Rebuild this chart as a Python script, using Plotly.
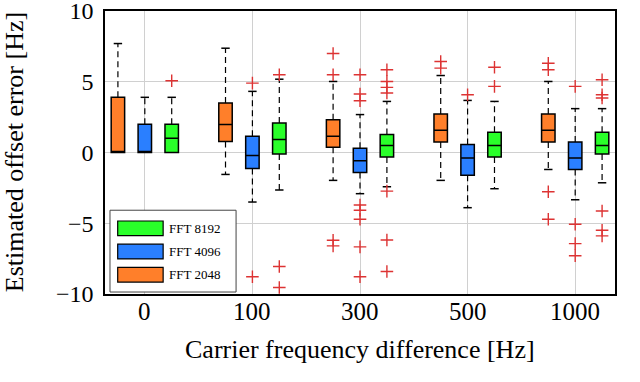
import plotly.graph_objects as go

categories = ["0", "100", "300", "500", "1000"]
series = ["FFT 2048", "FFT 4096", "FFT 8192"]
colors = ["#ff7f2a", "#2a7fff", "#2aff2a"]

# per series: one value per carrier frequency difference
q1 = {
    "FFT 2048": [0.0, 0.77, 0.37, 0.75, 0.75],
    "FFT 4096": [0.0, -1.13, -1.41, -1.6, -1.2],
    "FFT 8192": [0.0, -0.1, -0.31, -0.31, -0.1],
}
median = {
    "FFT 2048": [0.0, 1.97, 1.15, 1.57, 1.57],
    "FFT 4096": [0.0, -0.21, -0.59, -0.38, -0.38],
    "FFT 8192": [1.0, 0.92, 0.49, 0.49, 0.49],
}
q3 = {
    "FFT 2048": [3.9, 3.5, 2.32, 2.72, 2.72],
    "FFT 4096": [2.0, 1.15, 0.3, 0.56, 0.75],
    "FFT 8192": [2.0, 2.09, 1.27, 1.43, 1.43],
}
lower = {
    "FFT 2048": [0.0, -1.55, -1.97, -1.97, -1.2],
    "FFT 4096": [0.0, -3.5, -2.91, -3.9, -3.34],
    "FFT 8192": [0.0, -2.65, -2.42, -2.56, -2.14],
}
upper = {
    "FFT 2048": [7.7, 7.37, 5.02, 5.44, 5.02],
    "FFT 4096": [3.9, 4.32, 2.68, 3.68, 3.1],
    "FFT 8192": [3.9, 5.18, 3.61, 3.61, 3.1],
}
outliers = {
    "FFT 2048": [[], [], [7.0, 5.49, -6.2, -6.6], [6.43, 5.96], [6.31, 5.85, -2.77, -4.72]],
    "FFT 4096": [[], [4.9, -8.78], [5.49, 4.13, 3.66, -3.71, -4.08, -4.72, -6.67, -8.78], [4.08],
                 [4.67, -5.07, -6.44, -7.3]],
    "FFT 8192": [[5.07], [5.49, -8.06, -9.54], [5.85, 5.02, 4.6, 4.2, -2.73, -6.18, -8.41],
                 [6.03, 4.67], [5.14, 4.08, 3.85, -4.13, -5.49, -5.89]],
}

offsets = [-0.25, 0.0, 0.25]
font = "Liberation Serif, Times New Roman, serif"

fig = go.Figure()

for s, off, col in zip(series, offsets, colors):
    pos = [i + off for i in range(len(categories))]

    # dashed whiskers
    wx, wy = [], []
    for i, p in enumerate(pos):
        if upper[s][i] > q3[s][i]:
            wx += [p, p, None]
            wy += [q3[s][i], upper[s][i], None]
        if lower[s][i] < q1[s][i]:
            wx += [p, p, None]
            wy += [q1[s][i], lower[s][i], None]
    fig.add_trace(go.Scatter(
        x=wx, y=wy, mode="lines",
        line=dict(color="black", width=1.2, dash="6px,4px"),
        showlegend=False, hoverinfo="skip"
    ))

    # whisker caps
    cx, cy = [], []
    for i, p in enumerate(pos):
        if upper[s][i] > q3[s][i]:
            cx.append(p)
            cy.append(upper[s][i])
        if lower[s][i] < q1[s][i]:
            cx.append(p)
            cy.append(lower[s][i])
    fig.add_trace(go.Scatter(
        x=cx, y=cy, mode="markers",
        marker=dict(symbol="line-ew", size=6, line=dict(color="black", width=1.5)),
        showlegend=False, hoverinfo="skip"
    ))

    fig.add_trace(go.Box(
        name=s,
        x=pos,
        q1=q1[s],
        median=median[s],
        q3=q3[s],
        lowerfence=q1[s],
        upperfence=q3[s],
        width=0.125,
        fillcolor=col,
        line=dict(color="black", width=1.5),
        whiskerwidth=0,
        showlegend=False
    ))

    ox, oy = [], []
    for i, p in enumerate(pos):
        for v in outliers[s][i]:
            ox.append(p)
            oy.append(v)
    fig.add_trace(go.Scatter(
        x=ox, y=oy, mode="markers",
        marker=dict(symbol="cross-thin", size=9, line=dict(color="#dd3333", width=1.4)),
        showlegend=False
    ))

# legend drawn by hand to get the wide swatches
legend_items = list(zip(series, colors))[::-1]
shapes = [dict(
    type="rect", xref="paper", yref="paper",
    x0=0.0098, x1=0.257, y0=0.007, y1=0.296,
    fillcolor="white", line=dict(color="#444444", width=1), layer="above"
)]
annotations = []
for k, (name, col) in enumerate(legend_items):
    yc = 0.232 - k * 0.082
    shapes.append(dict(
        type="rect", xref="paper", yref="paper",
        x0=0.0249, x1=0.114, y0=yc - 0.026, y1=yc + 0.026,
        fillcolor=col, line=dict(color="black", width=1.2), layer="above"
    ))
    annotations.append(dict(
        xref="paper", yref="paper", x=0.122, y=yc, text=name,
        showarrow=False, xanchor="left", yanchor="middle",
        font=dict(family=font, size=13, color="black")
    ))

# x tick labels, placed a bit closer to the axis than plotly allows
for i, c in enumerate(categories):
    annotations.append(dict(
        xref="x", yref="paper", x=i, y=-0.062, text=c,
        showarrow=False, xanchor="center", yanchor="middle",
        font=dict(family=font, size=25, color="black")
    ))

# axis titles
annotations.append(dict(
    xref="paper", yref="paper", x=0.5, y=-0.195, text="Carrier frequency difference [Hz]",
    showarrow=False, xanchor="center", yanchor="middle",
    font=dict(family=font, size=26, color="black")
))
annotations.append(dict(
    xref="paper", yref="paper", x=-0.177, y=0.5, text="Estimated offset error [Hz]",
    textangle=-90, showarrow=False, xanchor="center", yanchor="middle",
    font=dict(family=font, size=26, color="black")
))

fig.update_layout(
    width=640,
    height=382,
    margin=dict(l=105, r=25, t=11, b=88),
    plot_bgcolor="white",
    paper_bgcolor="white",
    boxmode="overlay",
    showlegend=False,
    font=dict(family=font, size=24, color="black"),
    shapes=shapes,
    annotations=annotations,
)

fig.update_xaxes(
    range=[-0.37, 4.37],
    tickvals=list(range(len(categories))),
    showticklabels=False,
    showgrid=True, gridcolor="#d0d0d0", gridwidth=1,
    showline=True, linecolor="black", linewidth=1.5, mirror=True,
    zeroline=False, ticks="", automargin=False,
)

fig.update_yaxes(
    range=[-10, 10],
    tickvals=[-10, -5, 0, 5, 10],
    ticktext=["\u221210", "\u22125", "0", "5", "10"],
    showgrid=True, gridcolor="#d0d0d0", gridwidth=1,
    showline=True, linecolor="black", linewidth=1.5, mirror=True,
    zeroline=False, ticks="", automargin=False, ticklabelstandoff=5,
    ticklabeloverflow="allow",
)

fig.write_html(
    "out.html",
    config={"displayModeBar": False},
    post_script="document.body.style.margin='0px';",
)
